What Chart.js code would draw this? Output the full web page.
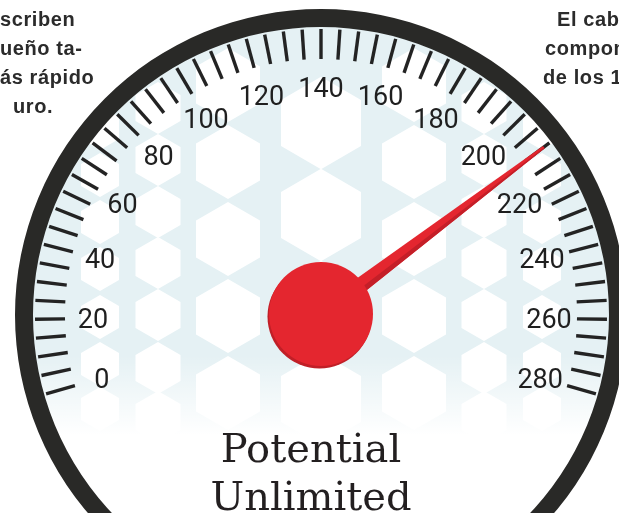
<!DOCTYPE html>
<html>
<head>
<meta charset="utf-8">
<script src="https://cdn.jsdelivr.net/npm/chart.js@4.4.0/dist/chart.umd.min.js"></script>
<style>
  html, body { margin: 0; padding: 0; background: #fff; }
  #stage { position: relative; width: 619px; height: 513px; overflow: hidden; background: #fff; }
  #gauge { position: absolute; left: 15px; top: 9px; }
  .side {
    position: absolute;
    font-family: 'Liberation Sans', Arial, sans-serif;
    font-weight: bold;
    font-size: 20px;
    line-height: 29px;
    letter-spacing: 0.6px;
    color: #2b2b2b;
    white-space: nowrap;
  }
</style>
</head>
<body>
<div id="stage">
  <canvas id="gauge" width="612" height="612"></canvas>
  <div class="side" style="left:0; top:5px;">scriben</div>
  <div class="side" style="left:0; top:34px;">ueño ta-</div>
  <div class="side" style="left:0; top:63px;">ás rápido</div>
  <div class="side" style="left:13px; top:92px;">uro.</div>
  <div class="side" style="left:557px; top:5px;">El cabezal</div>
  <div class="side" style="left:545px; top:34px;">componente</div>
  <div class="side" style="left:543px; top:63px;">de los 1990</div>
</div>
<script>
// Gauge scale
const scaleMin = 0;
const scaleMax = 280;
const minorStep = 5;
const tickValues = [0, 20, 40, 60, 80, 100, 120, 140, 160, 180, 200, 220, 240, 260, 280];
const needleValues = [210];
const captionLines = ['Potential', 'Unlimited'];

// one doughnut segment per minor tick
const minorSegments = [];
for (let v = scaleMin; v < scaleMax; v += minorStep) minorSegments.push(minorStep);

const sweep = 212;
const startRotation = -sweep / 2;

function hexagon(ctx, cx, cy, w) {
    const r = w / Math.sqrt(3);
    ctx.beginPath();
    for (let k = 0; k < 6; k++) {
        const a = (-90 + k * 60) * Math.PI / 180;
        const px = cx + r * Math.cos(a);
        const py = cy + r * Math.sin(a);
        if (k === 0) ctx.moveTo(px, py); else ctx.lineTo(px, py);
    }
    ctx.closePath();
    ctx.fill();
}

const dialPlugin = {
    id: 'dial',
    beforeDatasetsDraw(chart) {
        const ctx = chart.ctx;
        const bezel = chart.getDatasetMeta(0).data[0];
        const cx = bezel.x, cy = bezel.y, r = bezel.innerRadius + 1;

        ctx.save();
        ctx.beginPath();
        ctx.arc(cx, cy, r, 0, Math.PI * 2);
        ctx.clip();
        ctx.fillStyle = '#e5f1f4';
        ctx.fillRect(cx - r, cy - r, r * 2, r * 2);

        // white hexagon pattern
        ctx.fillStyle = '#ffffff';
        const cols = [
            { dx: 0, w: 80, dys: [-192, -100, -8, 84] },
            { dx: 93, w: 64, dys: [-230, -153, -76, 1, 78] },
            { dx: 163, w: 45, dys: [-207, -155, -103, -52, 0, 53, 102] },
            { dx: 221, w: 38, dys: [-187, -140, -93, -46, 2, 49, 94] }
        ];
        cols.forEach(c => {
            const sides = c.dx === 0 ? [0] : [-c.dx, c.dx];
            sides.forEach(dx => c.dys.forEach(dy => hexagon(ctx, cx + dx, cy + dy, c.w)));
        });

        // fade to white at the bottom
        const fade = ctx.createLinearGradient(0, cy + 40, 0, cy + 120);
        fade.addColorStop(0, 'rgba(255,255,255,0)');
        fade.addColorStop(1, 'rgba(255,255,255,1)');
        ctx.fillStyle = fade;
        ctx.fillRect(cx - r, cy + 40, r * 2, r);
        ctx.restore();
    },
    afterDatasetsDraw(chart) {
        const ctx = chart.ctx;
        const tickArcs = chart.getDatasetMeta(2).data;
        const cx = tickArcs[0].x, cy = tickArcs[0].y;

        const angleAt = i => i < tickArcs.length ? tickArcs[i].startAngle : tickArcs[tickArcs.length - 1].endAngle;

        // minor ticks
        ctx.save();
        ctx.strokeStyle = '#232323';
        ctx.lineWidth = 3.4;
        for (let i = 0; i <= tickArcs.length; i++) {
            const a = angleAt(i);
            const arc = tickArcs[Math.min(i, tickArcs.length - 1)];
            ctx.beginPath();
            ctx.moveTo(cx + arc.innerRadius * Math.cos(a), cy + arc.innerRadius * Math.sin(a));
            ctx.lineTo(cx + arc.outerRadius * Math.cos(a), cy + arc.outerRadius * Math.sin(a));
            ctx.stroke();
        }

        // labels
        ctx.fillStyle = '#1f1f1f';
        ctx.font = '27px Roboto, "Liberation Sans", sans-serif';
        ctx.textAlign = 'center';
        ctx.textBaseline = 'alphabetic';
        tickValues.forEach(v => {
            const a = angleAt((v - scaleMin) / minorStep);
            const lr = 228;
            ctx.fillText(String(v), cx + lr * Math.cos(a), cy + lr * Math.sin(a) + 9.7);
        });

        // needle
        const valueArc = chart.getDatasetMeta(3).data[0];
        const a = valueArc.endAngle;
        const len = 279;
        const ux = Math.cos(a), uy = Math.sin(a);
        const nx = -uy, ny = ux; // clockwise normal (lower side)
        const baseW = 9, tipW = 1.4;
        const tx = cx + ux * len, ty = cy + uy * len;
        ctx.fillStyle = '#e4262f';
        ctx.beginPath();
        ctx.moveTo(cx - nx * baseW, cy - ny * baseW);
        ctx.lineTo(tx - nx * tipW, ty - ny * tipW);
        ctx.lineTo(tx + nx * tipW, ty + ny * tipW);
        ctx.lineTo(cx + nx * baseW, cy + ny * baseW);
        ctx.closePath();
        ctx.fill();
        ctx.fillStyle = '#c41f28';
        ctx.beginPath();
        ctx.moveTo(cx + nx * baseW * 0.3, cy + ny * baseW * 0.3);
        ctx.lineTo(tx + nx * tipW * 0.3, ty + ny * tipW * 0.3);
        ctx.lineTo(tx + nx * tipW, ty + ny * tipW);
        ctx.lineTo(cx + nx * baseW, cy + ny * baseW);
        ctx.closePath();
        ctx.fill();

        // hub
        ctx.fillStyle = '#c01f27';
        ctx.beginPath();
        ctx.arc(cx - 1.5, cy + 1.5, 52, 0, Math.PI * 2);
        ctx.fill();
        ctx.fillStyle = '#e4262f';
        ctx.beginPath();
        ctx.arc(cx, cy - 1, 52, 0, Math.PI * 2);
        ctx.fill();

        // caption
        ctx.fillStyle = '#231f20';
        ctx.font = '40px "DejaVu Serif", serif';
        ctx.textAlign = 'center';
        ctx.fillText(captionLines[0], cx - 10, cy + 147);
        ctx.fillText(captionLines[1], cx - 10, cy + 195);
        ctx.restore();
    }
};

const gaugeChart = new Chart(document.getElementById('gauge').getContext('2d'), {
    type: 'doughnut',
    data: {
        labels: [],
        datasets: [
            { label: 'bezel', data: [1], backgroundColor: '#292927', borderWidth: 0, weight: 18, rotation: 0, circumference: 360 },
            { label: 'gap', data: [1], backgroundColor: 'rgba(0,0,0,0)', borderWidth: 0, weight: 2, rotation: 0, circumference: 360 },
            { label: 'ticks', data: minorSegments, backgroundColor: 'rgba(0,0,0,0)', borderWidth: 0, weight: 30, rotation: startRotation, circumference: sweep },
            { label: 'value', data: [needleValues[0], scaleMax - needleValues[0]], backgroundColor: 'rgba(0,0,0,0)', borderWidth: 0, weight: 256, rotation: startRotation, circumference: sweep }
        ]
    },
    options: {
        responsive: false,
        animation: false,
        cutout: 0,
        events: [],
        layout: { padding: 0 },
        plugins: {
            legend: { display: false },
            tooltip: { enabled: false }
        }
    },
    plugins: [dialPlugin]
});
</script>
</body>
</html>
